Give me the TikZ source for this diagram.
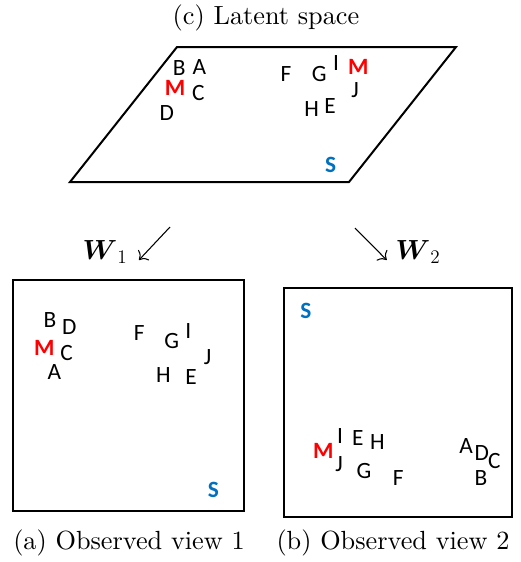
\documentclass[tikz,border=0pt]{standalone}
\usepackage{amsmath}
\usepackage{fontspec}
\newfontfamily\carl{Carlito}
\newfontfamily\lmten{lmroman10-regular}[Extension=.otf]
\usetikzlibrary{arrows.meta}
\definecolor{sblue}{HTML}{0070C0}
\begin{document}
\begin{tikzpicture}[x=0.75pt,y=-0.75pt,
  lt/.style={font=\carl\fontsize{17.5}{20}\selectfont, inner sep=0pt},
  mk/.style={font=\carl\bfseries\fontsize{17.5}{20}\selectfont, inner sep=0pt, text=red},
  sk/.style={font=\carl\bfseries\fontsize{17.5}{20}\selectfont, inner sep=0pt, text=sblue},
  captext/.style={font=\lmten\fontsize{19.7}{23}\selectfont, inner sep=0pt},
  frame/.style={draw, line width=1.5pt, line join=miter},
  warrow/.style={line width=0.8pt, -{To[scale=1.6]}}]
\useasboundingbox (0,0) rectangle (521,562);
% title
\node[captext] (title) at (266,18) {(c) Latent space};
% latent parallelogram
\draw[frame] (177,47) -- (456,47) -- (349,182) -- (70,182) -- cycle;
\node[lt] (lB) at (179.3,68.3) {B};
\node[lt] (lA) at (199.3,66.7) {A};
\node[mk] (lM1) at (175,88.3) {M};
\node[lt] (lC) at (198.3,92.7) {C};
\node[lt] (lD) at (166.7,112.7) {D};
\node[lt] (lF) at (286,74.3) {F};
\node[lt] (lG) at (319.3,74.3) {G};
\node[lt] (lI) at (336,63.3) {I};
\node[mk] (lM2) at (358.3,66.7) {M};
\node[lt] (lJ) at (355,90) {J};
\node[lt] (lH) at (311.7,109) {H};
\node[lt] (lE) at (330,105.7) {E};
\node[sk] (lS) at (330.7,165) {S};
% arrows
\coordinate (a1s) at (170,227);
\coordinate (a1e) at (139,260);
\coordinate (a2s) at (355,228);
\coordinate (a2e) at (386.7,260);
\draw[warrow] (a1s) -- (a1e);
\draw[warrow] (a2s) -- (a2e);
\node[captext] (w1) at (105,252) {$\boldsymbol{W}_1$};
\node[captext] (w2) at (418,252) {$\boldsymbol{W}_2$};
% view 1
\draw[frame] (13,280) rectangle (244,511);
\node[lt] (aB) at (50,320) {B};
\node[lt] (aD) at (69.3,327.3) {D};
\node[mk] (aM) at (44.3,347.7) {M};
\node[lt] (aC) at (66.7,352.7) {C};
\node[lt] (aA) at (54.3,372.3) {A};
\node[lt] (aF) at (139.3,333.3) {F};
\node[lt] (aG) at (171.7,341) {G};
\node[lt] (aI) at (188.3,330.7) {I};
\node[lt] (aJ) at (207.7,357.3) {J};
\node[lt] (aH) at (163.3,375) {H};
\node[lt] (aE) at (191,377.3) {E};
\node[sk] (aS) at (213.3,490) {S};
\node[captext] (capa) at (129,543) {(a) Observed view 1};
% view 2
\draw[frame] (284,288) rectangle (512,517);
\node[sk] (bS) at (306,310.7) {S};
\node[mk] (bM) at (323.3,451) {M};
\node[lt] (bI) at (340,436) {I};
\node[lt] (bJ) at (339,464.3) {J};
\node[lt] (bE) at (357.7,437.7) {E};
\node[lt] (bH) at (377.3,441.7) {H};
\node[lt] (bG) at (364,470.7) {G};
\node[lt] (bF) at (398.3,478.3) {F};
\node[lt] (bA) at (466,446) {A};
\node[lt] (bD) at (481.7,452.7) {D};
\node[lt] (bC) at (494.3,460.7) {C};
\node[lt] (bB) at (481,478.3) {B};
\node[captext] (capb) at (393,543) {(b) Observed view 2};
\end{tikzpicture}
\end{document}
